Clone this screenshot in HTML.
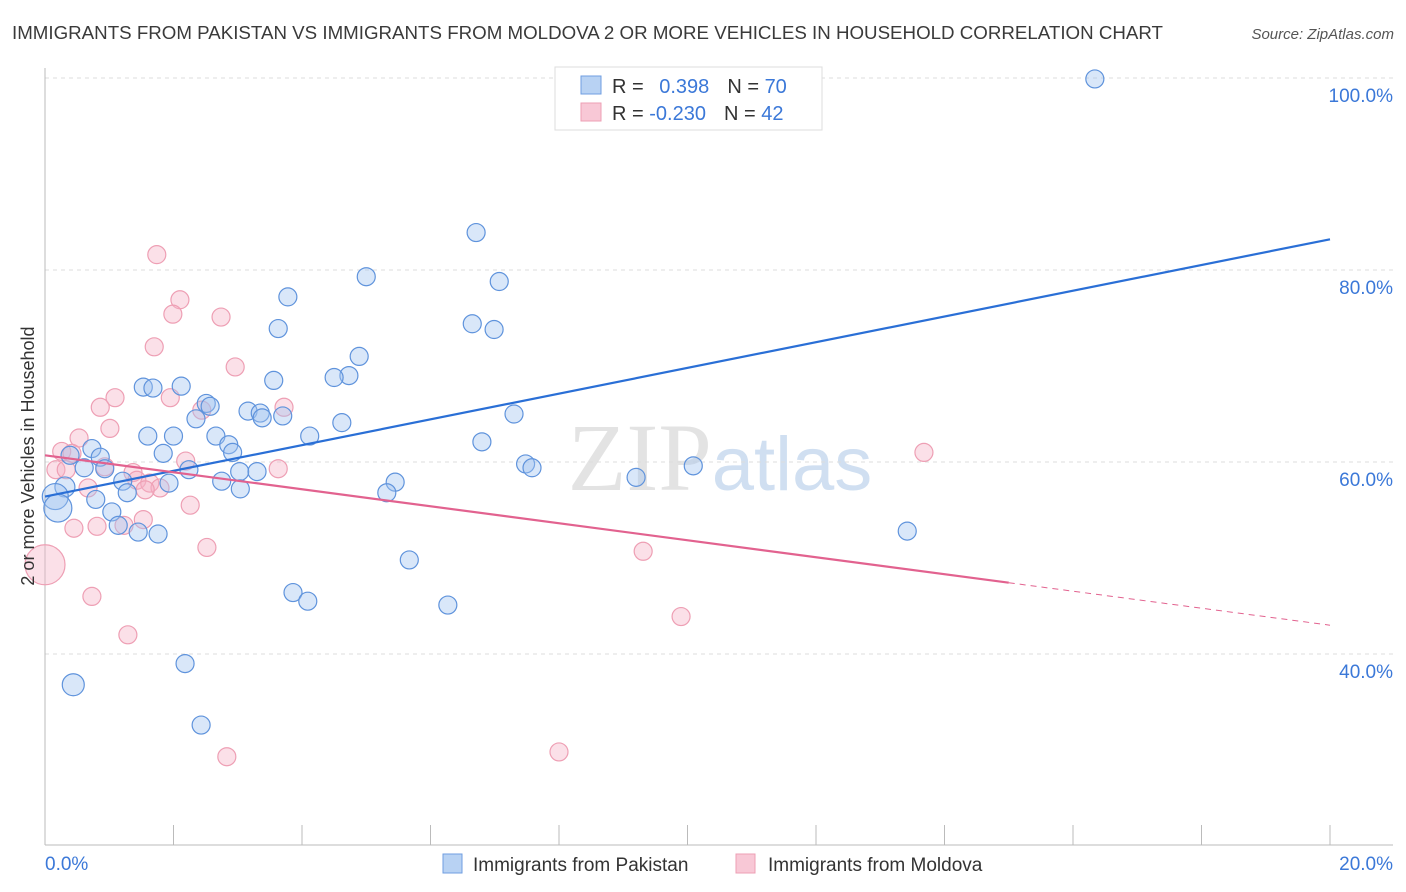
<!DOCTYPE html>
<html><head><meta charset="utf-8"><style>
body{margin:0;background:#fff;font-family:"Liberation Sans",sans-serif}
svg{display:block}
</style></head><body>
<svg id="chart" width="1406" height="892" xmlns="http://www.w3.org/2000/svg" font-family="Liberation Sans, sans-serif">
<text x="12" y="39" font-size="18" fill="#3a3a3a" textLength="1151" lengthAdjust="spacingAndGlyphs">IMMIGRANTS FROM PAKISTAN VS IMMIGRANTS FROM MOLDOVA 2 OR MORE VEHICLES IN HOUSEHOLD CORRELATION CHART</text>
<text x="1394" y="39" font-size="15" fill="#555" text-anchor="end" font-style="italic">Source: ZipAtlas.com</text>
<text x="720" y="490" font-size="96" fill="#ddd" text-anchor="middle" font-family="Liberation Serif, serif" opacity="0.8">ZIP<tspan fill="#c5d8ee" font-family="Liberation Sans, sans-serif" font-size="76">atlas</tspan></text>
<g id="grid"></g>
<g id="axes"></g>
<g id="pts"></g>
<g id="lines"></g>
<text transform="translate(34,456) rotate(-90)" font-size="18" fill="#333" text-anchor="middle">2 or more Vehicles in Household</text>
<g>
<rect x="555" y="67" width="267" height="63" fill="#fff" stroke="#ddd"/>
<rect x="581" y="76" width="20" height="18" fill="#b8d2f3" stroke="#6f9ee0"/>
<rect x="581" y="103" width="20" height="18" fill="#f8c8d6" stroke="#ee9fb4"/>
<text x="612" y="93" font-size="20" fill="#333">R = <tspan fill="#3b78d8" dx="10">0.398</tspan><tspan dx="18" fill="#333">N = </tspan><tspan fill="#3b78d8">70</tspan></text>
<text x="612" y="120" font-size="20" fill="#333">R = <tspan fill="#3b78d8">-0.230</tspan><tspan dx="18" fill="#333">N = </tspan><tspan fill="#3b78d8">42</tspan></text>
</g>
<g>
<rect x="443" y="854" width="19" height="19" fill="#b8d2f3" stroke="#6f9ee0"/>
<text x="473" y="871" font-size="19" fill="#333">Immigrants from Pakistan</text>
<rect x="736" y="854" width="19" height="19" fill="#f8c8d6" stroke="#ee9fb4"/>
<text x="768" y="871" font-size="19" fill="#333">Immigrants from Moldova</text>
</g>
</svg>
<script>
const yTicks=[100,80,60,40];
const yTickLabels=["100.0%","80.0%","60.0%","40.0%"];
const xTickCount=10;
const xEndLabels=["0.0%","20.0%"];
const pakX=[16.34,6.71,7.07,5.0,3.78,3.63,6.65,6.99,4.89,4.73,4.50,3.56,2.12,1.53,1.68,2.51,2.57,3.16,3.35,3.38,3.70,4.62,7.30,2.35,1.60,2.00,2.66,4.12,6.80,2.86,2.92,1.84,0.73,0.39,0.86,0.61,0.93,2.24,3.03,3.30,7.48,7.58,10.09,9.20,1.93,2.75,1.21,5.45,3.04,5.32,1.28,0.31,0.79,0.16,0.2,1.04,1.14,1.45,1.76,13.42,5.67,3.86,4.09,6.27,2.18,0.44,2.43];
const pakY=[99.9,83.9,78.8,79.3,77.2,73.9,74.4,73.8,71.0,69.0,68.8,68.5,67.9,67.8,67.7,66.1,65.8,65.3,65.1,64.6,64.8,64.1,65.0,64.5,62.7,62.7,62.7,62.7,62.1,61.8,61.0,60.9,61.4,60.7,60.5,59.4,59.3,59.2,59.0,59.0,59.8,59.4,59.6,58.4,57.8,58.0,58.0,57.9,57.2,56.8,56.8,57.4,56.1,56.4,55.2,54.8,53.4,52.7,52.5,52.8,49.8,46.4,45.5,45.1,39.0,36.8,32.6];
const pakR=[9,9,9,9,9,9,9,9,9,9,9,9,9,9,9,9,9,9,9,9,9,9,9,9,9,9,9,9,9,9,9,9,9,9,9,9,9,9,9,9,9,9,9,9,9,9,9,9,9,9,9,10,9,13,14,9,9,9,9,9,9,9,9,9,9,11,9];
const molX=[1.74,2.10,1.99,2.74,1.70,2.96,1.95,1.09,0.86,3.72,2.44,1.01,0.53,0.26,0.42,2.19,3.63,0.17,0.33,0.93,1.37,1.43,1.63,1.79,1.56,0.67,2.26,1.53,1.23,0.81,0.45,2.52,13.68,9.31,0.73,9.9,1.29,8.0,2.83,0];
const molY=[81.6,76.9,75.4,75.1,72.0,69.9,66.7,66.7,65.7,65.7,65.4,63.5,62.5,61.1,60.9,60.1,59.3,59.2,59.2,59.5,58.9,58.1,57.8,57.3,57.1,57.3,55.5,54.0,53.4,53.3,53.1,51.1,61.0,50.7,46.0,43.9,42.0,29.8,29.3,49.3];
const pakTrend=[56.4,83.2];
const molTrend=[60.7,43.0];
const molSolidEnd=15.0;

const NS="http://www.w3.org/2000/svg";
const X0=45,X1=1330,YB=845;
function sx(v){return X0+(v/20)*(X1-X0);}
function sy(v){return 462-(v-60)*9.6;}
function mk(tag,attrs,parent){const e=document.createElementNS(NS,tag);for(const k in attrs)e.setAttribute(k,attrs[k]);parent.appendChild(e);return e;}
const grid=document.getElementById('grid'),axes=document.getElementById('axes'),pts=document.getElementById('pts'),lines=document.getElementById('lines');
yTicks.forEach((t,i)=>{
  const l=mk('line',{x1:X0,x2:1393,y1:sy(t),y2:sy(t),stroke:'#ddd','stroke-dasharray':'4,4'},grid);
  
  
  const tx=mk('text',{x:1393,y:sy(t)+24,'font-size':19,fill:'#3b78d8','text-anchor':'end'},axes);
  
  
  tx.textContent=yTickLabels[i];
});
const la=mk('line',{x1:X0,x2:X0,y1:68,y2:YB,stroke:'#bbb'},axes);


const ba=mk('line',{x1:X0,x2:1393,y1:YB,y2:YB,stroke:'#bbb'},axes);


for(let i=0;i<=xTickCount;i++){
  const x=sx(i*20/xTickCount);
  const t=mk('line',{x1:x,x2:x,y1:825,y2:YB,stroke:'#bbb'},axes);
  
  
}
[[0,'start',X0],[1,'end',1393]].forEach(([i,a,x])=>{
  const tx=mk('text',{x:x,y:870,'font-size':19,fill:'#3b78d8','text-anchor':a},axes);
  
  
  tx.textContent=xEndLabels[i];
});
molX.forEach((v,i)=>{
  const c=mk('circle',{cx:sx(v),cy:sy(molY[i]),r:i===molX.length-1?20:9,fill:'rgba(246,178,198,0.4)',stroke:'#ee9fb4','stroke-width':1.2},pts);
  
  
});
pakX.forEach((v,i)=>{
  const c=mk('circle',{cx:sx(v),cy:sy(pakY[i]),r:pakR[i],fill:'rgba(160,196,240,0.4)',stroke:'#5f93dc','stroke-width':1.2},pts);
  
  
});
const bl=mk('line',{x1:sx(0),y1:sy(pakTrend[0]),x2:sx(20),y2:sy(pakTrend[1]),stroke:'#2a6fd6','stroke-width':2.2},lines);


const my=v=>molTrend[0]+(molTrend[1]-molTrend[0])*v/20;
const pl=mk('line',{x1:sx(0),y1:sy(molTrend[0]),x2:sx(molSolidEnd),y2:sy(my(molSolidEnd)),stroke:'#e2628f','stroke-width':2.2},lines);


const pd=mk('line',{x1:sx(molSolidEnd),y1:sy(my(molSolidEnd)),x2:sx(20),y2:sy(molTrend[1]),stroke:'#e2628f','stroke-width':1,'stroke-dasharray':'6,5'},lines);


</script>
</body></html>
